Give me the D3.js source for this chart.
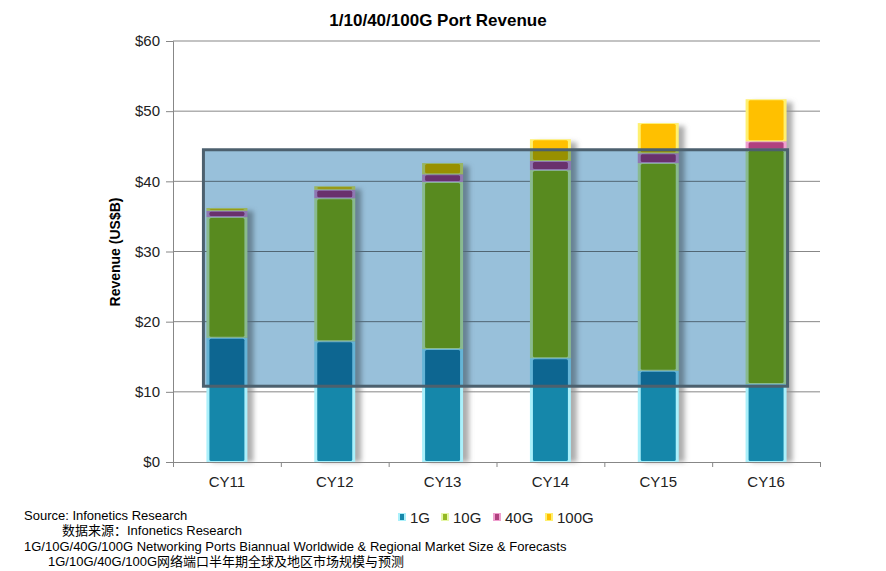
<html>
<head>
    <title>1/10/40/100G Port Revenue</title>
    <script src="https://d3js.org/d3.v7.min.js"></script>
    <style>
        body { margin: 0; background: #fff; }
        text { font-family: "Liberation Sans", Arial, sans-serif; }
    </style>
</head>
<body>
    <svg id="chart" width="886" height="571"></svg>
    <script>
        // data (US$ billions)
        const years = ['CY11', 'CY12', 'CY13', 'CY14', 'CY15', 'CY16'];
        const keys = ['1G', '10G', '40G', '100G'];
        const rev1G   = [17.7, 17.2, 16.1, 14.8, 13.0, 11.1];
        const rev10G  = [17.2, 20.4, 23.8, 26.8, 29.6, 33.4];
        const rev40G  = [0.9, 1.2, 1.1, 1.3, 1.4, 1.2];
        const rev100G = [0.4, 0.5, 1.6, 3.1, 4.3, 6.0];
        const yTicks = [0, 10, 20, 30, 40, 50, 60];
        // highlighted box, in data units
        const boxFrom = 'CY11', boxTo = 'CY16', boxLow = 10.8, boxHigh = 44.5;

        const colors = { '1G': '#1587aa', '10G': '#94b824', '40G': '#b0417f', '100G': '#ffc000' };
        const edges  = { '1G': '#aaf0fb', '10G': '#e6f7a8', '40G': '#f0a0d0', '100G': '#fff070' };

        const table = years.map((y, i) => ({
            year: y, '1G': rev1G[i], '10G': rev10G[i], '40G': rev40G[i], '100G': rev100G[i]
        }));

        const svg = d3.select('svg#chart');
        const margins = { top: 41, right: 66, bottom: 109, left: 173 };
        const chartWidth = 886 - margins.left - margins.right;
        const chartHeight = 571 - margins.top - margins.bottom;

        const defs = svg.append('defs');
        defs.append('filter').attr('id', 'shadow')
            .attr('x', '-50%').attr('y', '-10%').attr('width', '200%').attr('height', '120%')
            .append('feGaussianBlur').attr('stdDeviation', 2.5);

        const chartArea = svg.append('g')
                             .attr('transform', `translate(${margins.left}, ${margins.top})`);

        const xScale = d3.scaleBand().domain(years).range([0, chartWidth]).paddingInner(0.62).paddingOuter(0.31);
        const yScale = d3.scaleLinear().domain([0, 60]).range([chartHeight, 0]);

        // gridlines
        chartArea.append('g')
            .selectAll('line')
            .data(yTicks.slice(1))
            .enter().append('line')
            .attr('x1', 0).attr('x2', chartWidth)
            .attr('y1', d => yScale(d)).attr('y2', d => yScale(d))
            .attr('stroke', '#878787').attr('stroke-width', 1);

        // y axis
        const yAxis = chartArea.append('g')
            .call(d3.axisLeft(yScale).tickValues(yTicks).tickFormat(d => '$' + d).tickSizeOuter(0).tickSize(7));
        yAxis.select('.domain').attr('stroke', '#878787');
        yAxis.selectAll('.tick line').attr('stroke', '#878787');
        yAxis.selectAll('text').attr('fill', '#222').style('font-size', '15px').attr('x', -13);

        // x axis with ticks on band boundaries
        const xAxis = chartArea.append('g')
            .attr('transform', `translate(0, ${chartHeight})`)
            .call(d3.axisBottom(xScale).tickSize(0).tickPadding(14));
        xAxis.select('.domain').attr('stroke', '#878787');
        xAxis.selectAll('text').attr('fill', '#222').style('font-size', '15px');
        const step = xScale.step();
        chartArea.append('g')
            .selectAll('line')
            .data(d3.range(years.length + 1))
            .enter().append('line')
            .attr('x1', d => d * step + 0.5).attr('x2', d => d * step + 0.5)
            .attr('y1', chartHeight).attr('y2', chartHeight + 5)
            .attr('stroke', '#878787');

        const stacked = d3.stack().keys(keys)(table);
        const bw = xScale.bandwidth();

        // drop shadows
        chartArea.append('g')
            .attr('filter', 'url(#shadow)')
            .selectAll('rect')
            .data(table)
            .enter().append('rect')
            .attr('x', d => xScale(d.year) + 6)
            .attr('y', d => yScale(d3.sum(keys, k => d[k])) + 3)
            .attr('width', bw)
            .attr('height', d => yScale(0) - yScale(d3.sum(keys, k => d[k])) - 3)
            .attr('fill', '#8a8a8a')
            .attr('opacity', 0.7);

        // bars
        const layers = chartArea.append('g')
            .selectAll('g')
            .data(stacked)
            .enter().append('g');

        layers.selectAll('rect.edge')
            .data(d => d.map(s => ({ s: s, key: d.key })))
            .enter().append('rect')
            .attr('class', 'edge')
            .attr('x', d => xScale(d.s.data.year))
            .attr('y', d => yScale(d.s[1]))
            .attr('width', bw)
            .attr('height', d => yScale(d.s[0]) - yScale(d.s[1]))
            .attr('fill', d => edges[d.key]);

        layers.selectAll('rect.face')
            .data(d => d.map(s => ({ s: s, key: d.key })))
            .enter().append('rect')
            .attr('class', 'face')
            .attr('x', d => xScale(d.s.data.year) + 3)
            .attr('y', d => yScale(d.s[1]) + 1)
            .attr('width', bw - 6)
            .attr('height', d => Math.max(0, yScale(d.s[0]) - yScale(d.s[1]) - 2))
            .attr('rx', 1.5)
            .attr('fill', d => colors[d.key]);

        // highlighted box (multiplied over the chart)
        const bx0 = xScale(boxFrom) - 3;
        const bx1 = xScale(boxTo) + bw + 1;
        chartArea.append('rect')
            .attr('x', bx0)
            .attr('y', yScale(boxHigh))
            .attr('width', bx1 - bx0)
            .attr('height', yScale(boxLow) - yScale(boxHigh))
            .attr('fill', '#98c0da')
            .style('mix-blend-mode', 'multiply');
        chartArea.append('rect')
            .attr('x', bx0)
            .attr('y', yScale(boxHigh))
            .attr('width', bx1 - bx0)
            .attr('height', yScale(boxLow) - yScale(boxHigh))
            .attr('fill', 'none')
            .attr('stroke', '#4c606e')
            .attr('stroke-width', 3);

        // title
        svg.append('text')
            .attr('x', 438).attr('y', 26)
            .attr('text-anchor', 'middle')
            .style('font-size', '17px').style('font-weight', 'bold')
            .text('1/10/40/100G Port Revenue');

        // y label
        svg.append('text')
            .attr('transform', 'translate(120, 252) rotate(-90)')
            .attr('text-anchor', 'middle')
            .style('font-size', '14px').style('font-weight', 'bold')
            .text('Revenue (US$B)');

        // legend
        const legendX = [398, 441, 493, 545];
        const legend = svg.append('g');
        keys.forEach((k, i) => {
            const g = legend.append('g').attr('transform', `translate(${legendX[i]}, 513)`);
            g.append('rect').attr('width', 8).attr('height', 8).attr('fill', edges[k]);
            g.append('rect').attr('x', 2).attr('y', 1).attr('width', 4).attr('height', 6).attr('fill', colors[k]);
            g.append('text').attr('x', 12).attr('y', 10)
                .style('font-size', '15px').attr('fill', '#222').text(k);
        });

        // source notes
        const notes = [
            { x: 24, y: 520, t: 'Source: Infonetics Research' },
            { x: 62, y: 535, t: '数据来源：Infonetics Research' },
            { x: 24, y: 551, t: '1G/10G/40G/100G Networking Ports Biannual Worldwide & Regional Market Size & Forecasts' },
            { x: 48, y: 566, t: '1G/10G/40G/100G网络端口半年期全球及地区市场规模与预测' }
        ];
        svg.append('g')
            .selectAll('text')
            .data(notes)
            .enter().append('text')
            .attr('x', d => d.x).attr('y', d => d.y)
            .style('font-size', '13px')
            .style('font-family', '"Liberation Sans", Arial, "Noto Sans CJK SC", sans-serif')
            .text(d => d.t);
    </script>
</body>
</html>
